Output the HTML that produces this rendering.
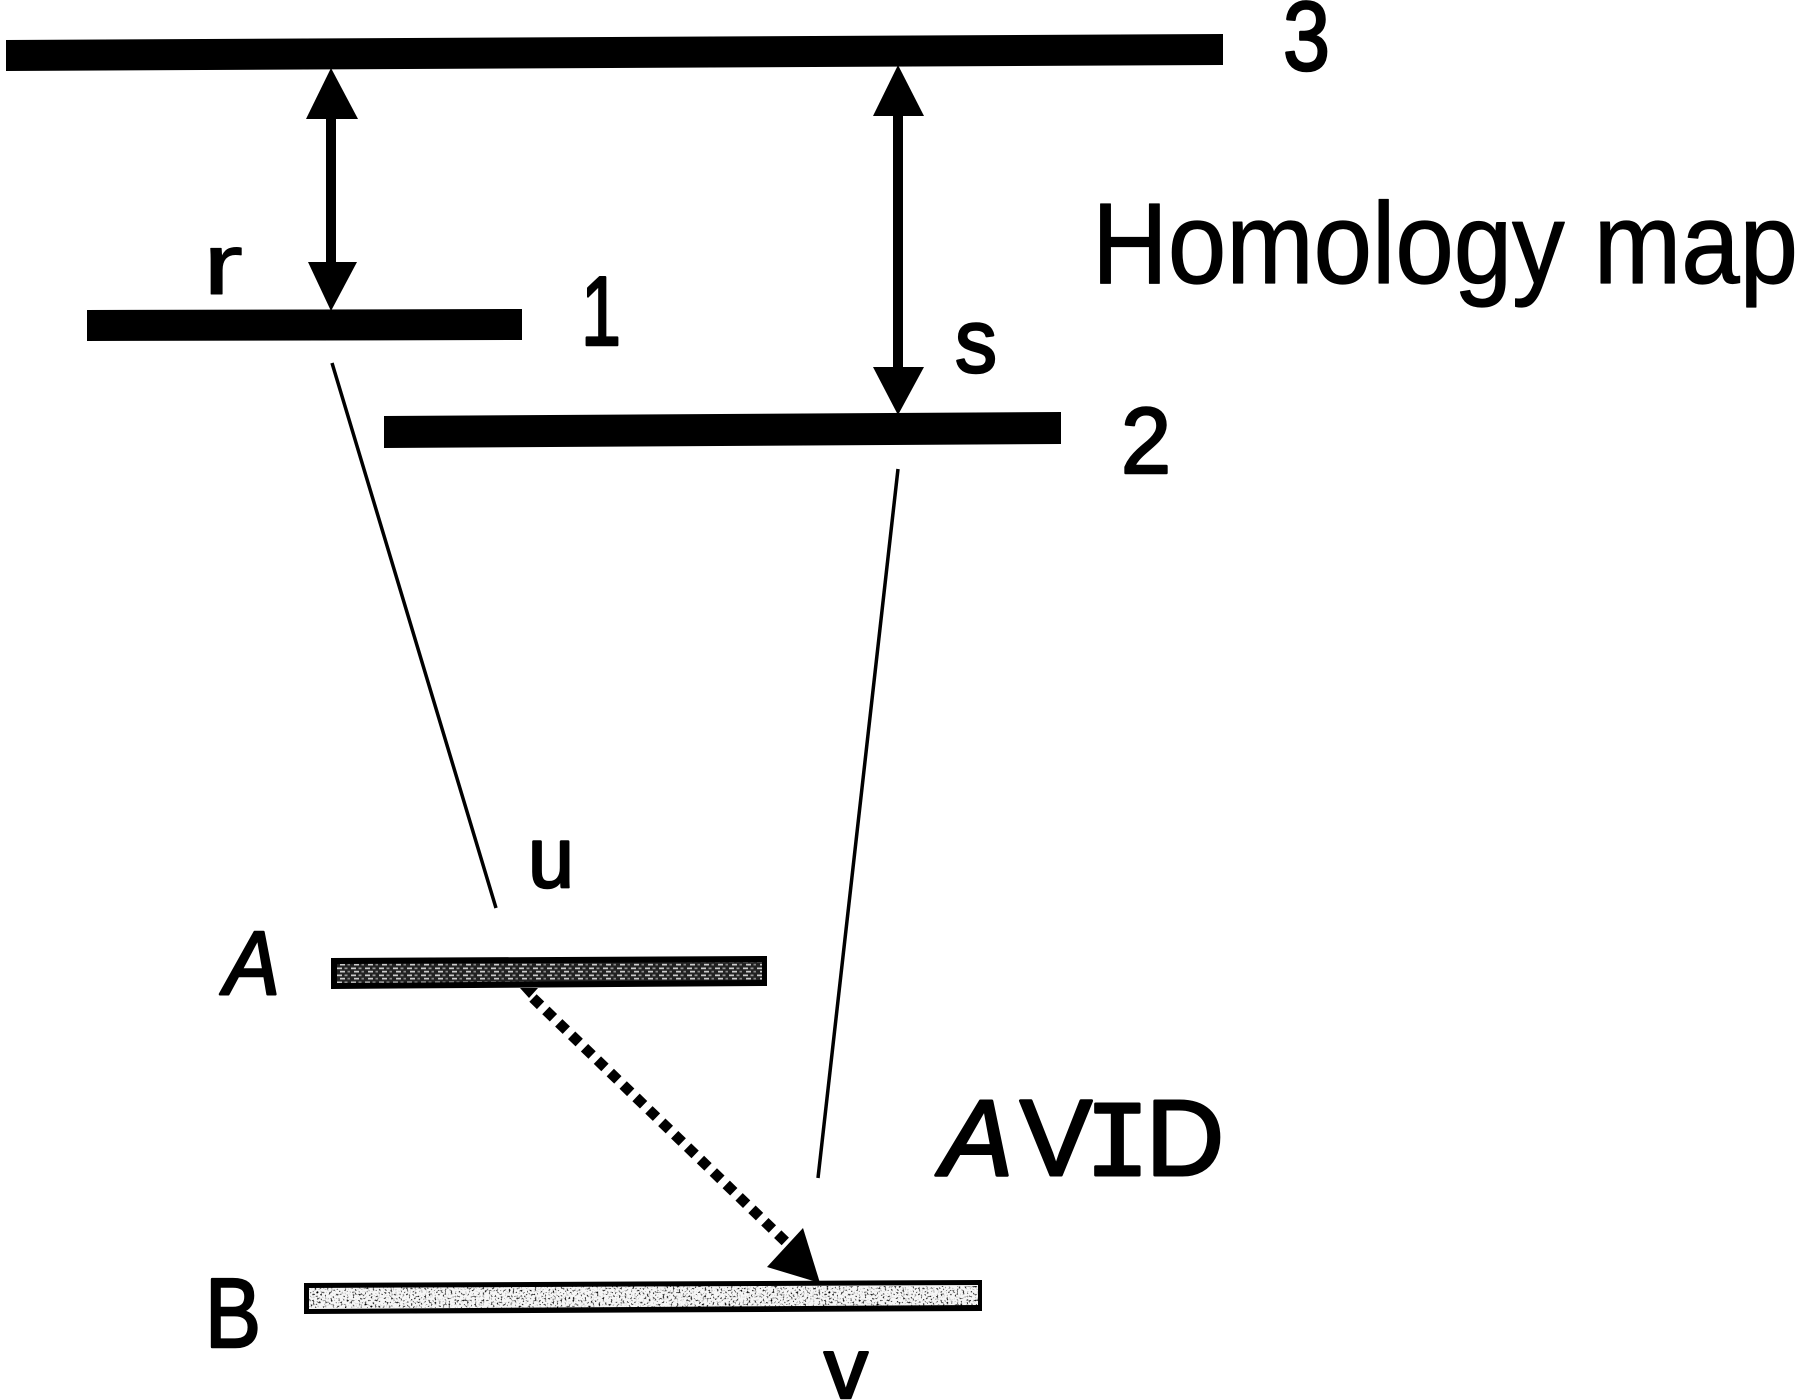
<!DOCTYPE html>
<html>
<head>
<meta charset="utf-8">
<style>
html,body{margin:0;padding:0;background:#fff;width:1800px;height:1400px;overflow:hidden}
svg{display:block}
text{font-family:"Liberation Sans",sans-serif;fill:#000;stroke:#000;stroke-linejoin:round;stroke-linecap:round}
</style>
</head>
<body>
<svg width="1800" height="1400" viewBox="0 0 1800 1400" xmlns="http://www.w3.org/2000/svg">
<defs>
<pattern id="pa" width="14" height="7" patternUnits="userSpaceOnUse">
<rect width="14" height="7" fill="#222"/>
<rect x="1" y="1.5" width="5" height="1.7" fill="#ccc"/>
<rect x="8.5" y="1.5" width="3" height="1.7" fill="#999"/>
<rect x="4" y="4.8" width="5" height="1.7" fill="#ccc"/>
<rect x="11.5" y="4.8" width="2.5" height="1.7" fill="#888"/>
</pattern>
<filter id="noise" x="0" y="0" width="100%" height="100%">
<feTurbulence type="fractalNoise" baseFrequency="0.5" numOctaves="2" seed="4"/>
<feColorMatrix type="matrix" values="0 0 0 0 0  0 0 0 0 0  0 0 0 0 0  5 0 0 0 -2.8"/>
</filter>
</defs>
<rect width="1800" height="1400" fill="#fff"/>

<!-- bars -->
<polygon points="6,40 1223,34 1223,65 6,71" fill="#000"/>
<polygon points="87,310 522,309 522,340 87,341" fill="#000"/>
<polygon points="384,416 1061,412 1061,444 384,448" fill="#000"/>

<!-- bar A -->
<polygon points="331,958 767,956 767,986 331,989" fill="#000"/>
<polygon points="337,964 762,962 762,980 337,983" fill="url(#pa)"/>

<!-- bar B -->
<polygon points="304,1283 982,1280 982,1311 304,1314" fill="#000"/>
<polygon points="309,1288 978,1285 978,1305 309,1309" fill="#f6f6f6"/>
<g><svg x="309" y="1286" width="669" height="22"><rect width="669" height="22" filter="url(#noise)"/></svg></g>

<!-- r arrow -->
<rect x="326" y="112" width="10" height="155" fill="#000"/>
<polygon points="331,68 306,119 358,119" fill="#000"/>
<polygon points="331,311 308,262 357,262" fill="#000"/>

<!-- s arrow -->
<rect x="893" y="110" width="10" height="262" fill="#000"/>
<polygon points="898,65 873,116 924,116" fill="#000"/>
<polygon points="898,415 873,367 924,367" fill="#000"/>

<!-- thin lines -->
<line x1="332" y1="363" x2="496" y2="908" stroke="#000" stroke-width="3.5"/>
<line x1="898" y1="469" x2="818" y2="1178" stroke="#000" stroke-width="3.5"/>

<!-- dotted arrow -->
<polygon points="520,988 538,988 529,998" fill="#000"/>
<line x1="533" y1="998" x2="790" y2="1246" stroke="#000" stroke-width="10.5" stroke-dasharray="10.5 7.4"/>
<polygon points="820,1283 803,1228 767,1267" fill="#000"/>

<!-- labels -->
<text x="1283" y="70" font-size="98" stroke-width="2.5" textLength="47" lengthAdjust="spacingAndGlyphs">3</text>
<text x="581" y="345" font-size="98" stroke-width="2.5" textLength="40" lengthAdjust="spacingAndGlyphs">1</text>
<text x="1121" y="473" font-size="94" stroke-width="2.5" textLength="50" lengthAdjust="spacingAndGlyphs">2</text>
<text x="203" y="294" font-size="86" stroke-width="1" textLength="40" lengthAdjust="spacingAndGlyphs">r</text>
<text x="955" y="372" font-size="90" stroke-width="2.5" textLength="42" lengthAdjust="spacingAndGlyphs">s</text>
<text x="528" y="887" font-size="86" stroke-width="2.5" textLength="46" lengthAdjust="spacingAndGlyphs">u</text>
<text x="224" y="994" font-size="90" font-style="italic" stroke-width="2.5" textLength="56" lengthAdjust="spacingAndGlyphs">A</text>
<text x="205" y="1347" font-size="98" stroke-width="2.5" textLength="56" lengthAdjust="spacingAndGlyphs">B</text>
<text x="824" y="1398" font-size="86" stroke-width="2.5" textLength="44" lengthAdjust="spacingAndGlyphs">v</text>
<text x="1092" y="283" font-size="115" stroke-width="1.2" textLength="706" lengthAdjust="spacingAndGlyphs">Homology map</text>
<text y="1175" font-size="108" stroke-width="3"><tspan x="941" font-style="italic">A</tspan><tspan x="1020">V</tspan><tspan x="1085" font-family="Liberation Mono">I</tspan><tspan x="1146">D</tspan></text>
</svg>
</body>
</html>
